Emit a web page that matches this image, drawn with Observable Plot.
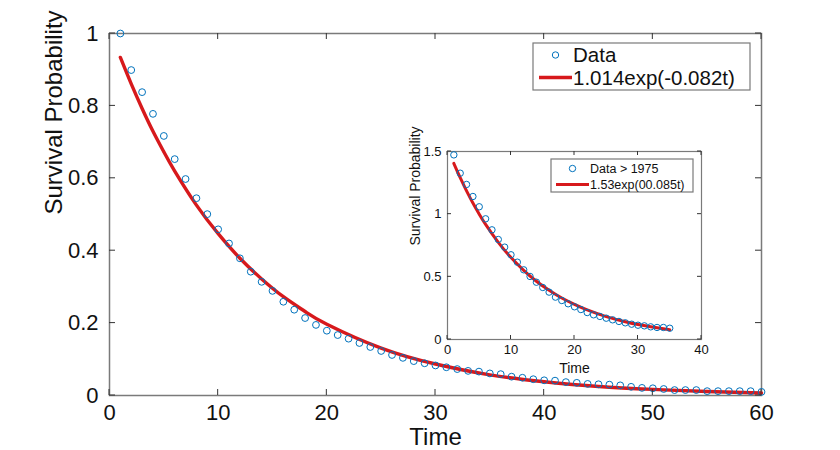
<!DOCTYPE html>
<html>
<head>
<meta charset="utf-8">
<script src="https://cdn.jsdelivr.net/npm/d3@7"></script>
<script src="https://cdn.jsdelivr.net/npm/@observablehq/plot@0.6"></script>
<style>
  html, body { margin: 0; padding: 0; background: #fff; }
  #wrap { position: relative; width: 840px; height: 450px; font-family: "Liberation Sans", Arial, Helvetica, sans-serif; }
  #wrap svg { position: absolute; background: transparent; overflow: visible; }
</style>
</head>
<body>
<div id="wrap"></div>
<script>
// ---- Main chart data (all years) ----
const mainTime = d3.range(1, 61);
const mainSurvival = [
  1.000, 0.899, 0.838, 0.778, 0.717, 0.653, 0.598, 0.545, 0.501, 0.459,
  0.420, 0.379, 0.342, 0.314, 0.289, 0.259, 0.237, 0.214, 0.195, 0.179,
  0.167, 0.157, 0.145, 0.134, 0.123, 0.112, 0.104, 0.095, 0.089, 0.083,
  0.078, 0.073, 0.068, 0.066, 0.061, 0.059, 0.052, 0.049, 0.045, 0.042,
  0.041, 0.037, 0.035, 0.032, 0.031, 0.030, 0.028, 0.024, 0.021, 0.020,
  0.018, 0.015, 0.015, 0.015, 0.012, 0.012, 0.012, 0.012, 0.012, 0.010
];
// fitted curve 1.014exp(-0.082t), read at sample times
const mainFitTime = [1, 2, 3, 4, 5, 6, 8, 10, 12, 14, 16, 18, 20, 25, 30, 35, 40, 45, 50, 55, 60];
const mainFitValue = [0.934, 0.861, 0.793, 0.730, 0.673, 0.620, 0.526, 0.447, 0.379, 0.322,
  0.273, 0.232, 0.197, 0.131, 0.087, 0.057, 0.038, 0.025, 0.017, 0.011, 0.007];
const mainXTicks = [0, 10, 20, 30, 40, 50, 60];
const mainYTicks = [0, 0.2, 0.4, 0.6, 0.8, 1];
const mainYTickLabels = ["0", "0.2", "0.4", "0.6", "0.8", "1"];

// ---- Inset data (> 1975) ----
const insetTime = d3.range(1, 36);
const insetSurvival = [
  1.473, 1.327, 1.237, 1.141, 1.059, 0.963, 0.875, 0.798, 0.737, 0.676,
  0.617, 0.556, 0.503, 0.457, 0.415, 0.378, 0.338, 0.311, 0.285, 0.261,
  0.239, 0.215, 0.197, 0.184, 0.170, 0.157, 0.144, 0.133, 0.122, 0.114,
  0.109, 0.101, 0.096, 0.096, 0.090
];
// fitted curve 1.53exp(-0.085t), read at sample times
const insetFitTime = [1, 2, 3, 4, 5, 6, 8, 10, 12, 14, 16, 18, 20, 22, 25, 28, 30, 32, 35];
const insetFitValue = [1.405, 1.291, 1.186, 1.089, 1.000, 0.919, 0.775, 0.654, 0.552, 0.465,
  0.393, 0.331, 0.280, 0.236, 0.183, 0.142, 0.119, 0.101, 0.078];
const insetXTicks = [0, 10, 20, 30, 40];
const insetYTicks = [0, 0.5, 1, 1.5];
const insetYTickLabels = ["0", "0.5", "1", "1.5"];

const legendMain = ["Data", "1.014exp(-0.082t)"];
const legendInset = ["Data > 1975", "1.53exp(00.085t)"];

const BLUE = "#0072BD";
const RED = "#d7191c";
const AXIS = "#7a7a7a";
const TICK = "#333";
const FONT = '"Liberation Sans", Arial, Helvetica, sans-serif';

const mainData = mainTime.map((t, i) => ({t, s: mainSurvival[i]}));
const mainFit = mainFitTime.map((t, i) => ({t, s: mainFitValue[i]}));
const insetData = insetTime.map((t, i) => ({t, s: insetSurvival[i]}));
const insetFit = insetFitTime.map((t, i) => ({t, s: insetFitValue[i]}));

function labelMarks(xTicks, yTicks, yLabels, fs, padX, padY) {
  const fmtY = d => yLabels[yTicks.indexOf(d)];
  return [
    Plot.axisX(xTicks, {anchor: "bottom", tickSize: 0, tickPadding: padX, fontSize: fs, fill: "#111", label: null}),
    Plot.axisY(yTicks, {anchor: "left", tickSize: 0, tickPadding: padY, fontSize: fs, fill: "#111", tickFormat: fmtY, label: null}),
  ];
}

// inward ticks on all four sides, positioned by the plot's own scales
function inwardTicks(fig, xTicks, yTicks, len) {
  const sx = fig.scale("x"), sy = fig.scale("y");
  const [x0, x1] = sx.range, [y0, y1] = sy.range; // y0 bottom, y1 top
  const g = d3.select(fig).append("g").attr("stroke", TICK).attr("stroke-width", 1);
  xTicks.forEach(v => {
    const x = sx.apply(v);
    g.append("line").attr("x1", x).attr("x2", x).attr("y1", y0).attr("y2", y0 - len);
    g.append("line").attr("x1", x).attr("x2", x).attr("y1", y1).attr("y2", y1 + len);
  });
  yTicks.forEach(v => {
    const y = sy.apply(v);
    g.append("line").attr("y1", y).attr("y2", y).attr("x1", x0).attr("x2", x0 + len);
    g.append("line").attr("y1", y).attr("y2", y).attr("x1", x1).attr("x2", x1 - len);
  });
}

const main = Plot.plot({
  width: 840, height: 450,
  marginLeft: 109, marginRight: 79, marginTop: 33, marginBottom: 55,
  style: {fontFamily: FONT, background: "transparent"},
  x: {domain: [0, 60], label: null},
  y: {domain: [0, 1], label: null},
  marks: [
    ...labelMarks(mainXTicks, mainYTicks, mainYTickLabels, 22, 9, 11),
    Plot.frame({stroke: AXIS, strokeWidth: 1.5}),
    Plot.line(mainFit, {x: "t", y: "s", stroke: RED, strokeWidth: 3.4, curve: "natural"}),
    Plot.dot(mainData, {x: "t", y: "s", r: 3.4, stroke: BLUE, strokeWidth: 1, fill: "none"}),
    Plot.text(["Time"], {frameAnchor: "bottom", lineAnchor: "middle", dy: 42, fontSize: 24, fill: "#111"}),
    Plot.text(["Survival Probability"], {frameAnchor: "left", lineAnchor: "middle", dx: -55, rotate: -90, fontSize: 24, fill: "#111"})
  ]
});
main.style.left = "0px";
main.style.top = "0px";
inwardTicks(main, mainXTicks, mainYTicks, 6);

// Inset plot area: x 447..701, y 151..339
const iml = 52, imt = 10, imr = 12, imb = 42;
const inset = Plot.plot({
  width: (701 - 447) + iml + imr, height: (339 - 151) + imt + imb,
  marginLeft: iml, marginRight: imr, marginTop: imt, marginBottom: imb,
  style: {fontFamily: FONT, background: "transparent"},
  x: {domain: [0, 40], label: null},
  y: {domain: [0, 1.5], label: null},
  marks: [
    Plot.frame({fill: "white", stroke: null}),
    ...labelMarks(insetXTicks, insetYTicks, insetYTickLabels, 13, 5, 6),
    Plot.frame({stroke: AXIS, strokeWidth: 1.2}),
    Plot.line(insetFit, {x: "t", y: "s", stroke: RED, strokeWidth: 3, curve: "natural"}),
    Plot.dot(insetData, {x: "t", y: "s", r: 3.2, stroke: BLUE, strokeWidth: 1, fill: "none"}),
    Plot.text(["Time"], {frameAnchor: "bottom", lineAnchor: "middle", dy: 29, fontSize: 14, fill: "#111"}),
    Plot.text(["Survival Probability"], {frameAnchor: "left", lineAnchor: "middle", dx: -32, rotate: -90, fontSize: 14, fill: "#111"})
  ]
});
inset.style.left = (447 - iml) + "px";
inset.style.top = (151 - imt) + "px";
inwardTicks(inset, insetXTicks, insetYTicks, 4);

const wrap = document.getElementById("wrap");
wrap.appendChild(main);
wrap.appendChild(inset);

// ---- Legends (drawn as SVG overlays) ----
function legend(svg, box, rows, fs, lineLen, markerR, lw) {
  const g = d3.select(svg).append("g").attr("text-anchor", "start");
  g.append("rect").attr("x", box.x).attr("y", box.y).attr("width", box.w).attr("height", box.h)
    .attr("fill", "white").attr("stroke", AXIS).attr("stroke-width", 1.2);
  rows.forEach((r, i) => {
    const cy = r.cy;
    if (i === 0) {
      g.append("circle").attr("cx", box.sx + lineLen / 2).attr("cy", cy).attr("r", markerR)
        .attr("fill", "none").attr("stroke", BLUE).attr("stroke-width", 1);
    } else {
      g.append("line").attr("x1", box.sx).attr("x2", box.sx + lineLen).attr("y1", cy).attr("y2", cy)
        .attr("stroke", RED).attr("stroke-width", lw);
    }
    g.append("text").attr("x", box.tx).attr("y", cy).attr("dy", "0.36em").attr("text-anchor", "start")
      .attr("font-size", fs).attr("fill", "#111").attr("font-family", FONT).text(r.label);
  });
}
legend(main, {x: 533, y: 43, w: 217, h: 47, sx: 539, tx: 573},
  [{label: legendMain[0], cy: 55}, {label: legendMain[1], cy: 77.5}], 20.5, 33, 3.2, 3.4);
const ox = 447 - iml, oy = 151 - imt;
legend(inset, {x: 551 - ox, y: 159 - oy, w: 142, h: 33, sx: 556 - ox, tx: 590 - ox},
  [{label: legendInset[0], cy: 168.5 - oy}, {label: legendInset[1], cy: 184.5 - oy}], 12.5, 33, 3.2, 3);
</script>
</body>
</html>
